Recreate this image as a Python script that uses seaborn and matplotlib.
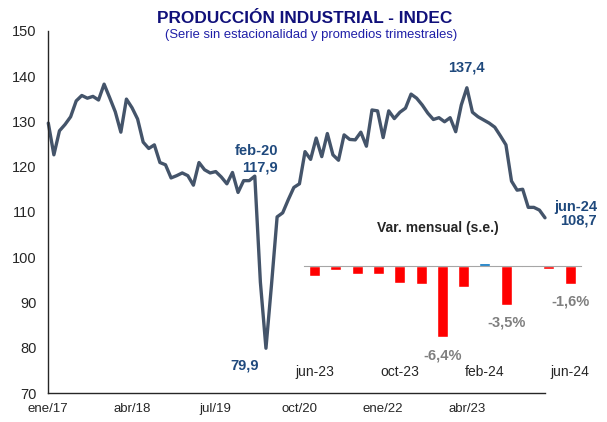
import numpy as np
import pandas as pd
import matplotlib
matplotlib.use('Agg')
import matplotlib.pyplot as plt
import seaborn as sns

# IPI manufacturero (serie s.e., prom. trimestrales), ene/17 - jun/24
ipi = [129.6, 122.6, 127.9, 129.3, 131.0, 134.5, 135.7, 135.1, 135.5, 134.7,
       138.2, 135.2, 132.1, 127.6, 134.9, 133.0, 130.5, 125.4, 124.0, 124.8,
       120.9, 120.4, 117.5, 118.0, 118.6, 118.0, 115.9, 120.9, 119.3, 118.6,
       118.9, 117.7, 116.2, 118.7, 114.3, 116.9, 116.9, 117.9, 94.5, 79.9,
       94.0, 108.9, 109.8, 112.7, 115.4, 116.2, 123.3, 121.6, 126.3, 122.2,
       127.3, 122.6, 121.4, 127.0, 126.0, 125.9, 127.6, 124.5, 132.5, 132.3,
       126.4, 132.3, 130.6, 132.0, 132.9, 136.0, 135.1, 133.6, 131.8, 130.4,
       130.8, 129.9, 130.8, 127.7, 133.6, 137.4, 132.0, 131.0, 130.3, 129.6,
       128.7, 126.8, 124.8, 116.8, 114.8, 115.0, 111.0, 111.0, 110.4, 108.7]
meses = pd.date_range('2017-01-01', periods=len(ipi), freq='MS')

xtick_idx = [0, 15, 30, 45, 60, 75]
xtick_labels = ['ene/17', 'abr/18', 'jul/19', 'oct/20', 'ene/22', 'abr/23']

# variacion mensual (s.e.), jun-23 - jun-24
var_meses = ['jun-23', 'jul-23', 'ago-23', 'sep-23', 'oct-23', 'nov-23', 'dic-23',
             'ene-24', 'feb-24', 'mar-24', 'abr-24', 'may-24', 'jun-24']
var_mensual = [-0.9, -0.4, -0.7, -0.7, -1.5, -1.6, -6.4, -1.9, 0.3, -3.5, -0.1, -0.3, -1.6]
var_ticks = ['jun-23', 'oct-23', 'feb-24', 'jun-24']
var_etiquetas = ['dic-23', 'mar-24', 'jun-24']

sns.set_style('white')
plt.rcParams['font.family'] = ['Liberation Sans', 'DejaVu Sans']

W, H = 607, 422
fig = plt.figure(figsize=(W / 100, H / 100), dpi=100)


def box(x0, y0, x1, y1):
    # caja en pixeles -> fraccion de figura
    return [x0 / W, 1 - y1 / H, (x1 - x0) / W, (y1 - y0) / H]


azul = '#1f497d'

## Serie principal
ax = fig.add_axes(box(48.3, 30.7, 545, 393.1))
df = pd.DataFrame({'i': range(len(ipi)), 'mes': meses, 'ipi': ipi})
sns.lineplot(data=df, x='i', y='ipi', ax=ax, color='#44546a', lw=2.4, clip_on=False)
ax.set_xlim(0, len(ipi) - 1)
ax.set_ylim(70, 150)
ax.set_yticks(range(70, 151, 10))
ax.set_xticks(xtick_idx, xtick_labels)
ax.set_xlabel('')
ax.set_ylabel('')
for s in ['top', 'right']:
    ax.spines[s].set_visible(False)
for s in ['left', 'bottom']:
    ax.spines[s].set_color('#262626')
    ax.spines[s].set_linewidth(1.0)
ax.tick_params(axis='y', direction='in', length=4, pad=8.5, labelsize=10.5, color='#262626')
ax.tick_params(axis='x', direction='out', length=3, pad=4, labelsize=9.5, color='#262626')
ax.patch.set_alpha(0)


def nota(txt, i, dx, dy, ha='center'):
    ax.annotate(txt, (i, ipi[i]), xytext=(dx, -dy), textcoords='offset pixels',
                ha=ha, va='center', fontsize=10.5, fontweight='bold', color=azul)


i_feb20 = list(meses.strftime('%Y-%m')).index('2020-02')
i_min = int(np.argmin(ipi))
i_max = int(np.argmax(ipi[60:])) + 60
i_fin = len(ipi) - 1
nota('feb-20', i_feb20, 23, -25, ha='right')
nota(f'{ipi[i_feb20]:.1f}'.replace('.', ','), i_feb20, 23, -9, ha='right')
nota(f'{ipi[i_min]:.1f}'.replace('.', ','), i_min, -21, 17)
nota(f'{ipi[i_max]:.1f}'.replace('.', ','), i_max, 0, -20)
nota('jun-24', i_fin, 52, -11, ha='right')
nota(f'{ipi[i_fin]:.1f}'.replace('.', ','), i_fin, 52, 3, ha='right')

## Recuadro: variacion mensual
ax2 = fig.add_axes(box(304, 255, 580.7, 345))
ax2.patch.set_alpha(0)
colores = ['#0070c0' if v > 0 else '#ff0000' for v in var_mensual]
sns.barplot(x=var_meses, y=var_mensual, hue=var_meses, palette=colores, dodge=False,
            legend=False, width=0.52, ax=ax2, saturation=1)
ax2.set_xlim(-0.5, len(var_meses) - 0.5)
ax2.set_ylim(-7.12, 0.99)
ax2.set_yticks([])
ax2.set_xlabel('')
ax2.set_ylabel('')
for s in ['top', 'right', 'left']:
    ax2.spines[s].set_visible(False)
ax2.spines['bottom'].set_position(('data', 0))
ax2.spines['bottom'].set_color('#a6a6a6')
ax2.set_xticks([var_meses.index(m) for m in var_ticks], var_ticks)
ax2.set_xticks(np.arange(-0.5, len(var_meses)), minor=True)
ax2.tick_params(axis='x', which='major', length=0, pad=71, labelsize=10)
ax2.tick_params(axis='x', which='minor', length=4, direction='inout', color='#a6a6a6')

for m in var_etiquetas:
    k = var_meses.index(m)
    v = var_mensual[k]
    ax2.annotate(f'{v:.1f}%'.replace('.', ','), (k, v), xytext=(0, -8),
                 textcoords='offset points', ha='center', va='top',
                 fontsize=10.5, fontweight='bold', color='#7f7f7f')

fig.text(438 / W, 1 - 228 / H, 'Var. mensual (s.e.)', ha='center', va='center',
         fontsize=10, fontweight='bold', color='#262626')

## Titulos
fig.text(305 / W, 1 - 18.5 / H, 'PRODUCCIÓN INDUSTRIAL - INDEC', ha='center', va='center',
         fontsize=12.4, fontweight='bold', color='#10107a')
fig.text(311 / W, 1 - 35 / H, '(Serie sin estacionalidad y promedios trimestrales)',
         ha='center', va='center', fontsize=9.4, color='#1f1fa8')

fig.savefig('out.png', dpi=100)
